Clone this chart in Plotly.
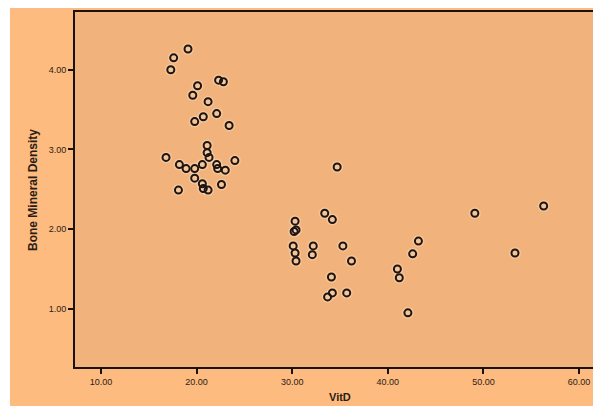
import plotly.graph_objects as go

vitd = [19.1, 17.6, 17.3, 22.3, 22.8, 20.1, 19.6, 21.2, 22.1, 20.7, 19.8, 23.4,
        21.1, 21.1, 21.3, 16.8, 24.0, 18.2, 18.9, 19.8, 20.6, 22.1, 22.2, 23.0,
        19.8, 18.1, 20.6, 20.7, 21.2, 22.6,
        34.7, 33.4, 34.2, 30.3, 30.2, 30.4, 30.1, 30.3, 30.4, 32.2, 32.1, 35.3,
        36.2, 34.1, 34.2, 33.7, 35.7, 41.0, 41.2, 43.2, 42.6, 42.1, 49.1, 53.3, 56.3]
bmd = [4.26, 4.15, 4.00, 3.87, 3.85, 3.80, 3.68, 3.60, 3.45, 3.41, 3.35, 3.30,
       3.05, 2.96, 2.90, 2.90, 2.86, 2.81, 2.76, 2.76, 2.81, 2.81, 2.76, 2.74,
       2.64, 2.49, 2.57, 2.51, 2.49, 2.56,
       2.78, 2.20, 2.12, 2.10, 1.97, 1.99, 1.79, 1.70, 1.60, 1.79, 1.68, 1.79,
       1.60, 1.40, 1.20, 1.15, 1.20, 1.50, 1.39, 1.85, 1.69, 0.95, 2.20, 1.70, 2.29]

x_ticks = [10, 20, 30, 40, 50, 60]
x_labels = ["10.00", "20.00", "30.00", "40.00", "50.00", "60.00"]
y_ticks = [1, 2, 3, 4]
y_labels = ["1.00", "2.00", "3.00", "4.00"]

W, H = 593, 406
ml, mr, mt, mb = 75, 0, 12, 39
pw, ph = W - ml - mr, H - mt - mb

fig = go.Figure()
# soft halo
fig.add_trace(go.Scatter(x=vitd, y=bmd, mode="markers", hoverinfo="skip",
                         marker=dict(size=12, color="rgba(255,240,220,0.3)", line=dict(width=0))))
fig.add_trace(go.Scatter(x=vitd, y=bmd, mode="markers",
                         marker=dict(symbol="circle-open", size=7, color="#1e1410",
                                     line=dict(width=2, color="#1e1410"))))

tickfont = dict(family="Liberation Sans, Arial", size=9, color="#2e2018")
fig.update_layout(
    width=W, height=H, showlegend=False,
    margin=dict(l=ml, r=mr, t=mt, b=mb),
    paper_bgcolor="#FDBB7F", plot_bgcolor="#F1B37B",
    xaxis=dict(range=[7.28, 61.46], tickvals=x_ticks, ticktext=x_labels,
               showgrid=False, zeroline=False, showline=True, linecolor="#1a1210",
               linewidth=2, mirror=True, ticks="outside", ticklen=5, tickwidth=1.5,
               tickcolor="#1a1210", tickfont=tickfont),
    yaxis=dict(range=[0.27, 4.725], tickvals=y_ticks, ticktext=y_labels,
               showgrid=False, zeroline=False, showline=True, linecolor="#1a1210",
               linewidth=2, ticks="outside", ticklen=5, tickwidth=1.5,
               tickcolor="#1a1210", tickfont=tickfont),
    shapes=[
        dict(type="rect", xref="paper", yref="paper", layer="below",
             x0=-ml / pw, x1=(-ml + 10) / pw, y0=-mb / ph, y1=(ph + mt) / ph,
             fillcolor="white", line=dict(width=0)),
        dict(type="rect", xref="paper", yref="paper", layer="below",
             x0=-ml / pw, x1=1.0, y0=(ph + mt - 8) / ph, y1=(ph + mt) / ph,
             fillcolor="white", line=dict(width=0)),
    ],
    annotations=[
        dict(text="<b>VitD</b>", xref="paper", yref="paper", x=(340 - ml) / pw,
             y=-(397 - mt - ph) / ph, showarrow=False, xanchor="center", yanchor="middle",
             font=dict(family="Liberation Sans, Arial", size=11, color="#2a1c14")),
        dict(text="<b>Bone Mineral Density</b>", xref="paper", yref="paper",
             x=(33 - ml) / pw, y=1 - (190 - mt) / ph, showarrow=False, textangle=-90,
             xanchor="center", yanchor="middle",
             font=dict(family="Liberation Sans, Arial", size=12, color="#2a1c14")),
    ],
)
fig.write_html("out.html", config={"displayModeBar": False},
               post_script="document.body.style.margin='0';")
